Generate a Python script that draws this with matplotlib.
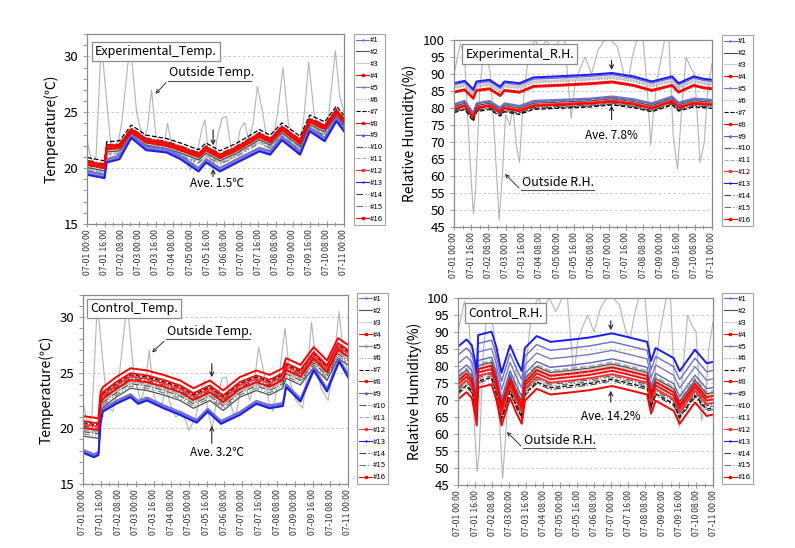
import matplotlib
matplotlib.use('Agg')
import numpy as np
import matplotlib.pyplot as plt
from matplotlib.lines import Line2D
from matplotlib.ticker import MultipleLocator

plt.rcParams['font.family'] = ['Noto Sans CJK KR', 'DejaVu Sans']

# ---------------- data ----------------
tick_hours = [0, 16, 32, 48, 64, 80, 96, 112, 128, 144, 160, 176, 192, 208, 224, 240]
tick_labels = ['07-01 00:00', '07-01 16:00', '07-02 08:00', '07-03 00:00', '07-03 16:00',
               '07-04 08:00', '07-05 00:00', '07-05 16:00', '07-06 08:00', '07-07 00:00',
               '07-07 16:00', '07-08 08:00', '07-09 00:00', '07-09 16:00', '07-10 08:00',
               '07-11 00:00']
series_names = ['#%d' % i for i in range(1, 17)]

# outside conditions
out_temp_h = [0, 4, 8, 13, 18, 22, 27, 32, 40, 46, 52, 56, 60, 64, 68, 72, 75, 78, 84, 90, 96,
              102, 107, 110, 113, 117, 121, 126, 130, 134, 138, 143, 147, 151, 155, 159, 164,
              168, 172, 178, 183, 188, 193, 199, 203, 207, 212, 216, 222, 226, 232, 236, 240]
out_temp_v = [22.3, 20.6, 21.0, 31.3, 26.0, 22.0, 21.5, 24.0, 31.3, 25.0, 22.5, 23.5, 27.0, 23.0,
              22.0, 22.3, 24.0, 22.5, 21.0, 21.5, 19.8, 21.0, 23.5, 24.3, 21.5, 20.0, 22.5, 24.5,
              24.6, 22.0, 21.0, 23.5, 24.1, 22.5, 24.0, 27.3, 25.0, 22.5, 21.5, 25.0, 29.0, 24.0,
              22.5, 21.8, 25.0, 29.5, 25.0, 23.5, 22.5, 25.0, 30.5, 26.5, 25.0]
out_rh_h = [0, 6, 10, 14, 18, 20, 24, 28, 30, 34, 38, 42, 45, 48, 52, 55, 58, 61, 64, 68, 72, 76,
            80, 86, 92, 98, 103, 109, 113, 118, 122, 128, 134, 140, 146, 152, 158, 162, 166, 170,
            176, 180, 183, 186, 190, 196, 200, 204, 208, 212, 216, 220, 224, 229, 233, 236, 240]
out_rh_v = [90, 99, 95, 70, 49, 55, 85, 98, 96, 90, 70, 47, 60, 78, 75, 80, 69, 64, 80, 92, 98,
            100, 97, 100, 96, 100, 100, 77, 88, 92, 95, 90, 97, 100, 100, 98, 90, 88, 95, 100, 100,
            85, 69, 80, 90, 100, 100, 72, 62, 80, 95, 92, 90, 64, 70, 85, 93]

# experimental temperature: red (upper) and blue (lower) envelopes
exp_t_red_h = [0, 16, 18, 30, 41, 55, 74, 87, 104, 111, 124, 140, 161, 171, 182, 199, 208, 222, 233, 240]
exp_t_red_v = [20.6, 20.3, 22.0, 22.1, 23.5, 22.6, 22.3, 21.9, 21.3, 21.9, 21.2, 21.9, 23.1, 22.6,
               23.7, 22.5, 24.4, 23.8, 25.2, 24.4]
exp_t_blue_h = [0, 16, 18, 30, 41, 55, 74, 87, 104, 111, 124, 140, 161, 171, 182, 199, 208, 222, 233, 240]
exp_t_blue_v = [19.4, 19.1, 20.5, 20.8, 22.7, 21.6, 21.4, 20.8, 19.7, 20.5, 19.7, 20.5, 21.5, 21.2,
                22.5, 21.2, 23.3, 22.4, 24.2, 23.3]
exp_t_base = ['b', 'r', 'r', 'r', 'b', 'r', 'r', 'r', 'b', 'r', 'r', 'r', 'b', 'r', 'r', 'r']
exp_t_offset = [0.35, -0.55, -0.45, 0.0, 0.25, -0.65, 0.35, -0.1, 0.12, -0.35, -0.75, -0.2, 0.0, 0.1, -0.85, -0.3]

# control temperature
ctl_t_red_h = [0, 14, 16, 18, 30, 43, 58, 73, 88, 100, 115, 127, 142, 157, 169, 181, 184, 197, 209, 221, 231, 240]
ctl_t_red_v = [21.1, 20.9, 23.3, 23.7, 24.6, 25.4, 25.2, 24.8, 24.3, 23.6, 24.3, 23.4, 24.6, 25.2,
               24.8, 25.4, 26.3, 25.7, 27.3, 26.1, 28.1, 27.5]
ctl_t_blue_h = [0, 10, 14, 16, 18, 30, 43, 50, 58, 73, 88, 103, 113, 125, 142, 157, 169, 181, 184, 197, 209, 221, 232, 240]
ctl_t_blue_v = [17.8, 17.4, 17.6, 20.5, 21.5, 22.2, 22.8, 22.2, 22.5, 21.8, 21.2, 20.5, 21.5, 20.4,
                21.2, 22.2, 21.8, 22.0, 23.7, 22.4, 25.2, 23.3, 26.0, 24.6]
ctl_t_base = ['b', 'r', 'r', 'r', 'b', 'r', 'r', 'r', 'b', 'r', 'r', 'r', 'b', 'r', 'r', 'r']
ctl_t_offset = [0.3, -1.8, -1.3, 0.0, 0.2, -1.1, -0.6, -0.45, 0.1, -1.4, -1.2, -0.75, 0.0, -0.9, -1.6, -1.05]

# experimental relative humidity: upper group and lower group
exp_rh_up_h = [0, 10, 18, 21, 33, 43, 47, 61, 74, 96, 127, 147, 167, 184, 203, 209, 223, 232, 240]
exp_rh_up_v = [84.8, 85.5, 83.0, 85.3, 85.8, 83.8, 85.3, 84.8, 86.5, 86.8, 87.3, 87.8, 86.8, 85.3,
               86.8, 84.8, 86.8, 86.1, 85.8]
exp_rh_lo_h = [0, 10, 18, 21, 33, 43, 47, 61, 74, 96, 127, 147, 167, 184, 203, 209, 223, 232, 240]
exp_rh_lo_v = [79.9, 80.9, 77.4, 80.2, 80.9, 78.9, 80.2, 79.4, 80.9, 81.2, 81.6, 82.2, 81.4, 80.2,
               82.2, 80.4, 81.6, 81.4, 81.2]
exp_rh_base = ['u', 'l', 'u', 'u', 'l', 'u', 'l', 'u', 'l', 'l', 'l', 'l', 'u', 'l', 'l', 'l']
exp_rh_offset = [2.0, 0.5, 1.3, 0.0, 1.3, 0.9, -1.3, -0.3, 1.0, -0.8, 0.8, 0.0, 2.5, -1.0, -0.5, -0.3]

# control relative humidity (top curve) and per-series offsets
ctl_rh_h = [0, 8, 13, 16, 17.6, 19, 31.6, 36, 41, 49, 55, 60, 63, 74, 87, 108, 124, 145, 156, 178,
            181.7, 186, 203, 208.6, 223, 234, 240]
ctl_rh_v = [85.7, 87.8, 86.1, 81.5, 78.0, 89.1, 90.1, 85.7, 78.0, 86.1, 81.7, 78.5, 85.3, 88.8, 87.1,
            87.8, 88.4, 89.6, 88.8, 87.1, 81.5, 85.3, 82.3, 78.5, 84.8, 80.8, 81.2]
ctl_rh_offset = [-2.5, -9.0, -9.5, -10.0, -5.0, -10.5, -13.5, -11.0, -7.5, -12.5, -8.5, -12.0, 0.0,
                 -14.0, -13.0, -15.5]

# ---------------- styles ----------------
styles = {
    '#1': dict(color='#6b6bd8', lw=1.0, marker='+'),
    '#2': dict(color='#505050', lw=0.9),
    '#3': dict(color='#cccccc', lw=1.6),
    '#4': dict(color='#ff0000', lw=1.4, marker='s'),
    '#5': dict(color='#7a7ac8', lw=1.0, marker='+'),
    '#6': dict(color='#8a8a8a', lw=0.8, ls=':'),
    '#7': dict(color='#000000', lw=0.9, ls='--'),
    '#8': dict(color='#f01010', lw=1.4, marker='s'),
    '#9': dict(color='#6262c4', lw=1.0, marker='^'),
    '#10': dict(color='#555555', lw=0.8, ls='-.'),
    '#11': dict(color='#a8a8a8', lw=1.2, ls='--'),
    '#12': dict(color='#ff3030', lw=1.4, marker='s'),
    '#13': dict(color='#1a1aff', lw=1.4, marker='+'),
    '#14': dict(color='#404040', lw=0.8, ls=(0, (6, 2, 1, 2))),
    '#15': dict(color='#707070', lw=0.8, ls=(0, (6, 2, 1, 2, 1, 2))),
    '#16': dict(color='#ff0000', lw=1.4, marker='s'),
}
order = [2, 5, 10, 14, 1, 9, 13, 6, 4, 0, 8, 12, 11, 7, 15, 3]  # draw grays first, reds last


def line_kw(name):
    s = styles[name]
    return dict(color=s['color'], lw=s['lw'], ls=s.get('ls', '-'))


def legend_handles():
    hs = []
    for n in series_names:
        s = styles[n]
        hs.append(Line2D([], [], color=s['color'], lw=0.8, ls=s.get('ls', '-'),
                         marker=s.get('marker', None), markersize=1.4, label=n))
    return hs


fig = plt.figure(figsize=(7.95, 5.48), dpi=100)
axes_pos = {
    'tl': [0.110, 0.5912, 0.3226, 0.3467],
    'tr': [0.571, 0.5858, 0.3245, 0.3412],
    'bl': [0.1044, 0.1168, 0.3333, 0.3453],
    'br': [0.5761, 0.1150, 0.3208, 0.3412],
}
legend_pos = {'tl': (0.4453, 0.938), 'tr': (0.908, 0.936), 'bl': (0.449, 0.466), 'br': (0.908, 0.466)}


def style_axes(ax, ylim, ymajor, yminor, ylabel):
    ax.set_xlim(0, 240)
    ax.set_ylim(*ylim)
    ax.set_xticks(tick_hours)
    ax.set_xticklabels(tick_labels, rotation=90, fontsize=6.3, color='#333333')
    ax.xaxis.set_minor_locator(MultipleLocator(8))
    ax.yaxis.set_major_locator(MultipleLocator(ymajor))
    if yminor:
        ax.yaxis.set_minor_locator(MultipleLocator(yminor))
    ax.tick_params(axis='x', which='both', direction='inout', length=4, width=0.6, color='#888888', pad=2)
    ax.tick_params(axis='x', which='minor', length=3)
    ax.tick_params(axis='y', which='both', direction='out', length=3, width=0.6, color='#888888', labelsize=9.5)
    for sp in ax.spines.values():
        sp.set_color('#8c8c8c')
        sp.set_linewidth(0.9)
    ax.yaxis.grid(True, ls=(0, (2.5, 2.5)), color='#c8c8c8', lw=0.7)
    ax.set_axisbelow(True)
    ax.set_ylabel(ylabel, fontsize=10)


def add_legend(key, ax):
    leg = fig.legend(handles=legend_handles(), loc='upper left', bbox_to_anchor=legend_pos[key],
                     fontsize=5.6, frameon=True, fancybox=False, edgecolor='#8c8c8c',
                     handlelength=1.6, handletextpad=0.1, labelspacing=0.5, borderpad=0.3,
                     borderaxespad=0.0)
    leg.get_frame().set_linewidth(0.8)


def title_box(ax, x, y, text):
    ax.text(x, y, text, transform=ax.transAxes, fontsize=9, ha='left', va='center',
            bbox=dict(boxstyle='square,pad=0.25', fc='white', ec='#8c8c8c', lw=0.9), zorder=10)


def outside_label(ax, tx, ty, ux0, ux1, uy, ax_, ay_, text):
    ax.text(tx, ty, text, transform=ax.transAxes, fontsize=9, ha='left', va='bottom', zorder=10)
    ax.plot([ux0, ux1], [uy, uy], transform=ax.transAxes, color='#555555', lw=0.8, zorder=10)
    ax.annotate('', xy=(ax_, ay_), xycoords='axes fraction', xytext=(ux0, uy), textcoords='axes fraction',
                arrowprops=dict(arrowstyle='->', color='#333333', lw=0.7, mutation_scale=6), zorder=10)


def ave_arrows(ax, x, d0, d1, u0, u1, tx, ty, text):
    ax.annotate('', xy=(x, d1), xycoords='axes fraction', xytext=(x, d0), textcoords='axes fraction',
                arrowprops=dict(arrowstyle='->', color='#222222', lw=0.8, mutation_scale=7))
    ax.annotate('', xy=(x, u1), xycoords='axes fraction', xytext=(x, u0), textcoords='axes fraction',
                arrowprops=dict(arrowstyle='->', color='#222222', lw=0.8, mutation_scale=7))
    ax.text(tx, ty, text, transform=ax.transAxes, fontsize=8.5, ha='center', va='center')


# ---- top-left: Experimental temperature
ax = fig.add_axes(axes_pos['tl'])
ax.plot(out_temp_h, out_temp_v, color='#b4b4b4', lw=0.8, zorder=1)
bases = {'r': (exp_t_red_h, exp_t_red_v), 'b': (exp_t_blue_h, exp_t_blue_v)}
for i in order:
    h, v = bases[exp_t_base[i]]
    ax.plot(h, np.array(v) + exp_t_offset[i], zorder=2, **line_kw(series_names[i]))
style_axes(ax, (15, 32), 5, 1, 'Temperature(℃)')
add_legend('tl', ax)
title_box(ax, 0.03, 0.91, 'Experimental_Temp.')
outside_label(ax, 0.318, 0.762, 0.314, 0.637, 0.755, 0.258, 0.675, 'Outside Temp.')
ave_arrows(ax, 0.49, 0.51, 0.40, 0.235, 0.305, 0.507, 0.215, 'Ave. 1.5℃')

# ---- top-right: Experimental RH
ax = fig.add_axes(axes_pos['tr'])
ax.plot(out_rh_h, out_rh_v, color='#b4b4b4', lw=0.8, zorder=1)
bases = {'u': (exp_rh_up_h, exp_rh_up_v), 'l': (exp_rh_lo_h, exp_rh_lo_v)}
for i in order:
    h, v = bases[exp_rh_base[i]]
    ax.plot(h, np.array(v) + exp_rh_offset[i], zorder=2, **line_kw(series_names[i]))
style_axes(ax, (45, 100), 5, None, 'Relative Humidity(%)')
add_legend('tr', ax)
title_box(ax, 0.045, 0.925, 'Experimental_R.H.')
outside_label(ax, 0.265, 0.205, 0.26, 0.543, 0.198, 0.19, 0.294, 'Outside R.H.')
ave_arrows(ax, 0.611, 0.905, 0.825, 0.56, 0.665, 0.61, 0.49, 'Ave. 7.8%')

# ---- bottom-left: Control temperature
ax = fig.add_axes(axes_pos['bl'])
ax.plot(out_temp_h, out_temp_v, color='#b4b4b4', lw=0.8, zorder=1)
bases = {'r': (ctl_t_red_h, ctl_t_red_v), 'b': (ctl_t_blue_h, ctl_t_blue_v)}
for i in order:
    h, v = bases[ctl_t_base[i]]
    ax.plot(h, np.array(v) + ctl_t_offset[i], zorder=2, **line_kw(series_names[i]))
style_axes(ax, (15, 32), 5, 1, 'Temperature(℃)')
add_legend('bl', ax)
title_box(ax, 0.028, 0.928, 'Control_Temp.')
outside_label(ax, 0.316, 0.771, 0.313, 0.630, 0.764, 0.253, 0.685, 'Outside Temp.')
ave_arrows(ax, 0.486, 0.65, 0.55, 0.20, 0.322, 0.504, 0.164, 'Ave. 3.2℃')

# ---- bottom-right: Control RH
ax = fig.add_axes(axes_pos['br'])
ax.plot(out_rh_h, out_rh_v, color='#b4b4b4', lw=0.8, zorder=1)
for i in order:
    ax.plot(ctl_rh_h, np.array(ctl_rh_v) + ctl_rh_offset[i], zorder=2, **line_kw(series_names[i]))
style_axes(ax, (45, 100), 5, None, 'Relative Humidity(%)')
add_legend('br', ax)
title_box(ax, 0.04, 0.92, 'Control_R.H.')
outside_label(ax, 0.258, 0.205, 0.255, 0.537, 0.198, 0.184, 0.294, 'Outside R.H.')
ave_arrows(ax, 0.599, 0.893, 0.813, 0.428, 0.519, 0.60, 0.364, 'Ave. 14.2%')

fig.savefig('out.png', dpi=100, facecolor='white')
